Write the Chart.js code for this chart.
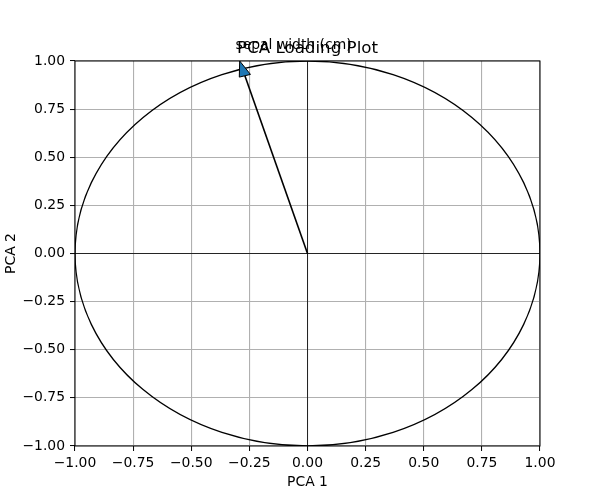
<!DOCTYPE html>
<html>
<head>
<meta charset="utf-8">
<script src="https://cdn.jsdelivr.net/npm/chart.js@4"></script>
<style>
html,body{margin:0;padding:0;background:#fff;}
#wrap{width:600px;height:500px;}
</style>
</head>
<body>
<div id="wrap"><canvas id="c" width="600" height="500"></canvas></div>
<script>
// ---- data ----
const featureNames = ['sepal width (cm)'];
const loadingsPC1 = [-0.2693];
const loadingsPC2 = [0.9233];
const xTickValues = [-1.00, -0.75, -0.50, -0.25, 0.00, 0.25, 0.50, 0.75, 1.00];
const yTickValues = [-1.00, -0.75, -0.50, -0.25, 0.00, 0.25, 0.50, 0.75, 1.00];
const titleText = 'PCA Loading Plot';
const xLabel = 'PCA 1';
const yLabel = 'PCA 2';
const headWidth = 0.05;
const headLength = 0.08;
const labelScale = 1.15;

const FONT = "'DejaVu Sans', sans-serif";
const fmt = v => (Math.abs(v) < 1e-9 ? 0 : v).toFixed(2).replace('-', '\u2212');

const datasets = featureNames.map((n, i) => ({
  label: n,
  data: [{x: 0, y: 0}, {x: loadingsPC1[i], y: loadingsPC2[i]}],
  showLine: true,
  borderColor: '#000',
  borderWidth: 1.6,
  pointRadius: 0,
  fill: false
}));

const decor = {
  id: 'decor',
  beforeDatasetsDraw(chart) {
    const {ctx, chartArea: a, scales: {x, y}} = chart;
    ctx.save();
    ctx.beginPath();
    ctx.rect(a.left, a.top, a.right - a.left, a.bottom - a.top);
    ctx.clip();
    ctx.strokeStyle = '#000';
    ctx.lineWidth = 0.8;
    const x0 = x.getPixelForValue(0), y0 = y.getPixelForValue(0);
    ctx.beginPath();
    ctx.moveTo(a.left, y0); ctx.lineTo(a.right, y0);
    ctx.moveTo(x0, a.top); ctx.lineTo(x0, a.bottom);
    ctx.stroke();
    const rx = x.getPixelForValue(1) - x0;
    const ry = y0 - y.getPixelForValue(1);
    ctx.lineWidth = 1.3;
    ctx.beginPath();
    ctx.ellipse(x0, y0, rx, ry, 0, 0, Math.PI * 2);
    ctx.stroke();
    ctx.restore();
  },
  afterDatasetsDraw(chart) {
    const {ctx, chartArea: a, scales: {x, y}} = chart;
    ctx.save();
    featureNames.forEach((n, i) => {
      const ex = loadingsPC1[i], ey = loadingsPC2[i];
      const L = Math.hypot(ex, ey);
      const ux = ex / L, uy = ey / L;
      const px = -uy, py = ux;
      const hw = headWidth / 2;
      const pts = [
        [ex + ux * headLength, ey + uy * headLength],
        [ex + px * hw, ey + py * hw],
        [ex - px * hw, ey - py * hw]
      ];
      ctx.beginPath();
      pts.forEach((p, k) => {
        const X = x.getPixelForValue(p[0]), Y = y.getPixelForValue(p[1]);
        if (k === 0) ctx.moveTo(X, Y); else ctx.lineTo(X, Y);
      });
      ctx.closePath();
      ctx.fillStyle = '#1f77b4';
      ctx.fill();
      ctx.strokeStyle = '#000';
      ctx.lineWidth = 1;
      ctx.stroke();
    });
    ctx.strokeStyle = '#000';
    ctx.lineWidth = 1;
    ctx.strokeRect(a.left, a.top, a.right - a.left, a.bottom - a.top);
    ctx.fillStyle = '#000';
    ctx.font = '16.7px ' + FONT;
    ctx.textAlign = 'center';
    ctx.textBaseline = 'alphabetic';
    ctx.fillText(titleText, (a.left + a.right) / 2, a.top - 8.5);
    ctx.font = '13.9px ' + FONT;
    ctx.textAlign = 'left';
    featureNames.forEach((n, i) => {
      ctx.fillText(n, x.getPixelForValue(loadingsPC1[i] * labelScale), y.getPixelForValue(loadingsPC2[i] * labelScale));
    });
    ctx.textAlign = 'center';
    ctx.fillText(xLabel, (a.left + a.right) / 2, 485.5);
    ctx.save();
    ctx.translate(15, (a.top + a.bottom) / 2);
    ctx.rotate(-Math.PI / 2);
    ctx.fillText(yLabel, 0, 0);
    ctx.restore();
    ctx.restore();
  }
};

const gridColor = ctx => '#b0b0b0';

new Chart(document.getElementById('c'), {
  type: 'scatter',
  data: {datasets},
  options: {
    responsive: false,
    animation: false,
    devicePixelRatio: 1,
    layout: {padding: {left: 0, right: 60, top: 61, bottom: 0}},
    plugins: {legend: {display: false}, tooltip: {enabled: false}, title: {display: false}},
    scales: {
      x: {
        type: 'linear', min: -1, max: 1,
        afterBuildTicks: s => { s.ticks = xTickValues.map(v => ({value: v})); },
        afterFit: s => { s.height = 54; },
        grid: {color: gridColor, lineWidth: 1.1, tickColor: '#000', tickLength: 5, tickWidth: 1},
        border: {display: false},
        ticks: {color: '#000', font: {family: FONT, size: 13.9}, padding: 4, maxRotation: 0, autoSkip: false,
          callback: v => fmt(v)}
      },
      y: {
        type: 'linear', min: -1, max: 1,
        afterBuildTicks: s => { s.ticks = yTickValues.map(v => ({value: v})); },
        afterFit: s => { s.width = 75; },
        grid: {color: gridColor, lineWidth: 1.1, tickColor: '#000', tickLength: 5, tickWidth: 1},
        border: {display: false},
        ticks: {color: '#000', font: {family: FONT, size: 13.9}, padding: 5, autoSkip: false,
          callback: v => fmt(v)}
      }
    }
  },
  plugins: [decor]
});
</script>
</body>
</html>
